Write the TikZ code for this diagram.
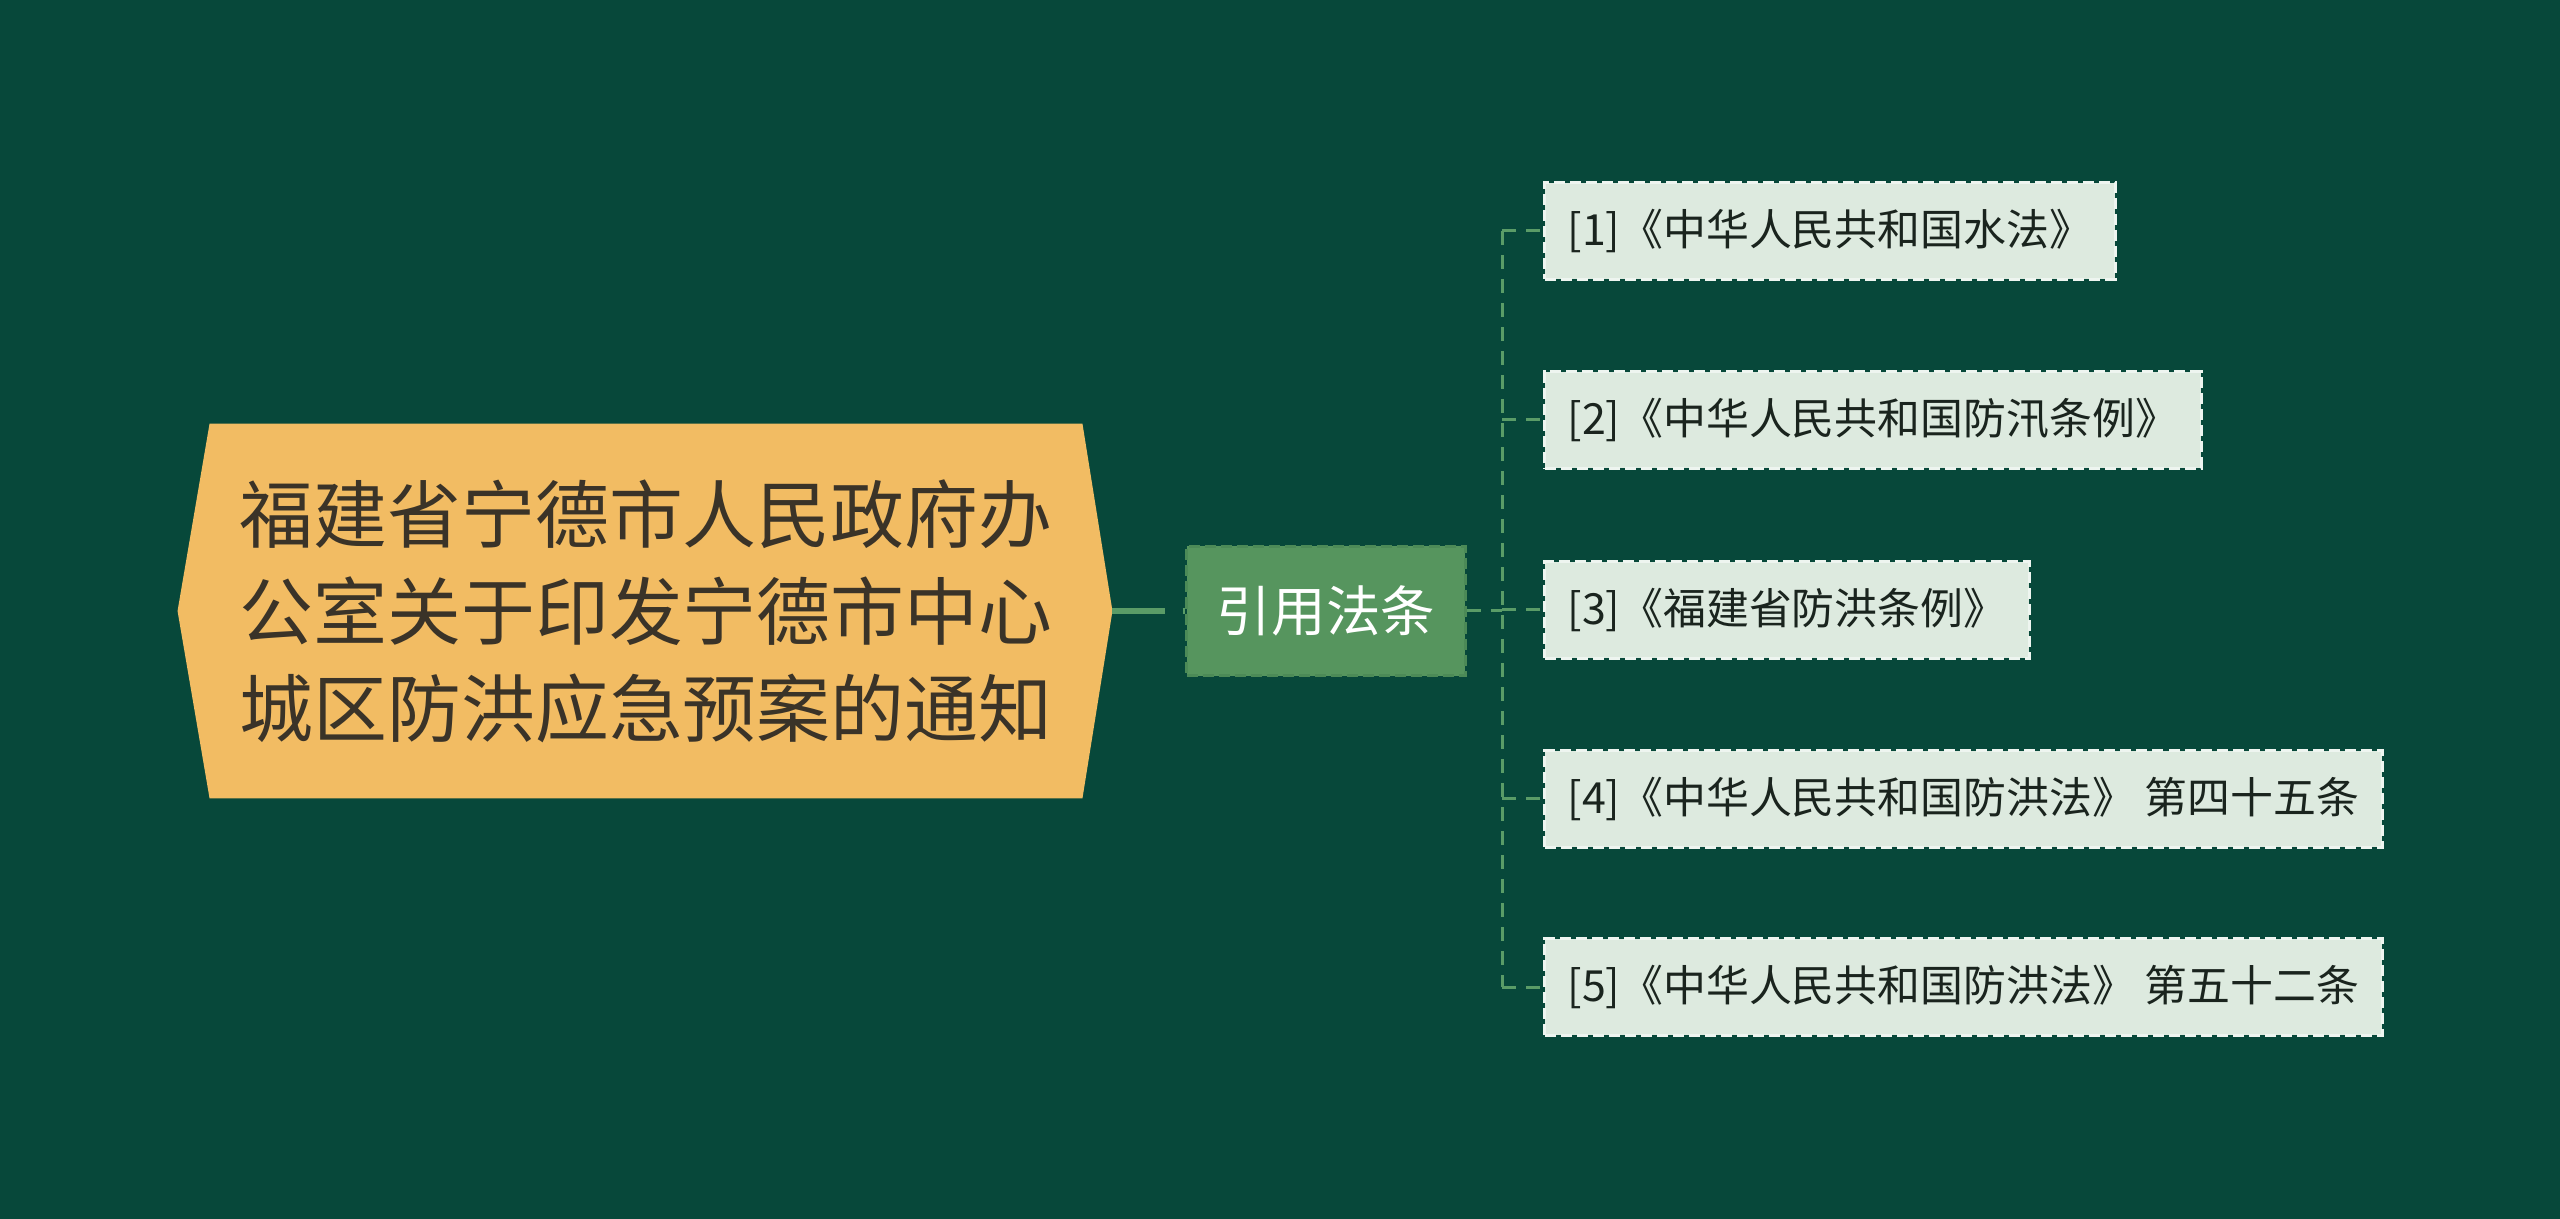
\documentclass[tikz,border=0pt]{standalone}
\usepackage{fontspec}
\setmainfont{Noto Sans CJK SC}
\usetikzlibrary{positioning,calc,backgrounds}
\definecolor{bgGreen}{HTML}{07483A}
\definecolor{rootFill}{HTML}{F2BC63}
\definecolor{rootText}{HTML}{3A3328}
\definecolor{topicFill}{HTML}{56955E}
\definecolor{topicEdge}{HTML}{4C8A57}
\definecolor{leafFill}{HTML}{DDEADF}
\definecolor{leafEdge}{HTML}{EEF5F0}
\definecolor{leafText}{HTML}{1A241E}
\definecolor{linkGreen}{HTML}{5A9C67}
\tikzset{
  rootbox/.style={align=center, text=rootText, inner sep=0pt,
    minimum width=8.71cm, minimum height=3.73cm,
    font=\fontsize{21}{27.6}\selectfont},
  topicbox/.style={fill=topicFill, draw=topicEdge, line width=0.03cm,
    dash pattern=on 0.11cm off 0.05cm, text=white, inner sep=0pt,
    minimum width=2.78cm, minimum height=1.29cm,
    font=\fontsize{15.5}{18}\selectfont},
  lawbox/.style={fill=leafFill, draw=leafEdge, line width=0.03cm,
    dash pattern=on 0.11cm off 0.05cm, text=leafText, anchor=west,
    inner xsep=0.23cm, inner ysep=0pt, minimum height=0.96cm,
    font=\fontsize{12.2}{15}\selectfont},
  rootlink/.style={draw=linkGreen, line width=0.06cm, dash pattern=on 0.53cm off 0.17cm},
  branch/.style={draw=linkGreen, line width=0.03cm, dash pattern=on 0.14cm off 0.1cm}
}
\begin{document}
\begin{tikzpicture}[x=0.01cm,y=-0.01cm]
\useasboundingbox (0,0) rectangle (2560,1219);
\begin{scope}[on background layer]
\fill[bgGreen] (0,0) rectangle (2560,1219);
\end{scope}
% central topic
\node[rootbox] (root) at (646,611) {福建省宁德市人民政府办\\公室关于印发宁德市中心\\城区防洪应急预案的通知};
\begin{scope}[on background layer]
\fill[rootFill] (root.north west) -- (root.north east) -- ($(root.east)+(30,0)$)
  -- (root.south east) -- (root.south west) -- ($(root.west)+(-32,0)$) -- cycle;
\end{scope}
\coordinate (rootTip) at ($(root.east)+(30,0)$);
\node[topicbox] (cite) at (1326,611) {引用法条};
\draw[rootlink] (rootTip) -- (cite.west);
% cited laws
\foreach \y/\txt [count=\i] in {231/{[1]《中华人民共和国水法》},
    420/{[2]《中华人民共和国防汛条例》},
    610/{[3]《福建省防洪条例》},
    799/{[4]《中华人民共和国防洪法》 第四十五条},
    987/{[5]《中华人民共和国防洪法》 第五十二条}}
  \node[lawbox] (law\i) at (1543,\y) {\txt};
\coordinate (fork) at (1502,611);
\draw[branch] (cite.east) -- (fork);
\draw[branch] (fork |- law1.west) -- (fork |- law5.west);
\foreach \i in {1,...,5}
  \draw[branch] (fork |- law\i.west) -- (law\i.west);
\end{tikzpicture}
\end{document}
